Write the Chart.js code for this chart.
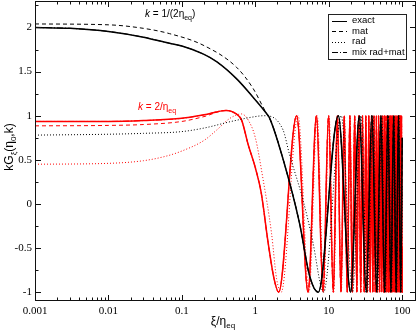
<!DOCTYPE html>
<html>
<head>
<meta charset="utf-8">
<script src="https://cdn.jsdelivr.net/npm/chart.js@4"></script>
<style>
  html, body { margin: 0; padding: 0; background: #fff; }
  canvas { display: block; }
</style>
</head>
<body>
<canvas id="chart" width="417" height="332"></canvas>
<script>
// ---- axis ticks ----
const xDecades = [0.001, 0.01, 0.1, 1, 10, 100];
const xMinorSteps = [2, 3, 4, 5, 6, 7, 8, 9];
const yTicks = [-1, -0.5, 0, 0.5, 1, 1.5, 2];

// ---- k = 1/(2 eta_eq), black curves ----
// smooth part, before the oscillations
const lowExactXi = [0.001, 0.003, 0.01, 0.03, 0.068, 0.1, 0.194, 0.3, 0.553, 0.93, 1.42, 1.57, 2.4, 4.0, 5.5];
const lowExactG  = [2.00, 1.99, 1.955, 1.89, 1.82, 1.79, 1.70, 1.61, 1.42, 1.21, 1.025, 0.97, 0.50, -0.22, -0.82];
const lowMatXi = [0.001, 0.01, 0.03, 0.068, 0.194, 0.553, 0.93, 1.27];
const lowMatG  = [2.04, 2.03, 1.99, 1.93, 1.80, 1.55, 1.31, 1.10];
const lowRadXi = [0.001, 0.01, 0.03, 0.1, 0.2, 0.5, 1.0, 1.3, 2.38, 2.9, 4.47, 6.1, 7.8];
const lowRadG  = [0.78, 0.79, 0.80, 0.82, 0.86, 0.94, 0.99, 1.0, 0.84, 0.57, 0.04, -0.44, -0.93];
// extrema of the oscillations (last point = end of the curve)
const lowExactOscXi = [7.2, 13.48, 19.77, 26.05, 32.33, 38.62, 44.90, 51.18, 57.47, 63.75, 70.03, 76.31, 82.60, 88.88, 95.16, 100];
const lowExactOscG  = [-1, 1, -1, 1, -1, 1, -1, 1, -1, 1, -1, 1, -1, 1, -1, 0.75];
const lowRadOscXi = [8.5, 14.78, 21.07, 27.35, 33.63, 39.92, 46.20, 52.48, 58.77, 65.05, 71.33, 77.61, 83.90, 90.18, 96.46, 100];
const lowRadOscG  = [-1, 1, -1, 1, -1, 1, -1, 1, -1, 1, -1, 1, -1, 1, -1, 0.2];

// ---- k = 2/eta_eq, red curves ----
const highExactXi = [0.001, 0.01, 0.03, 0.1, 0.2, 0.4, 0.55, 0.65, 0.8, 1.0, 1.2, 1.5, 1.8];
const highExactG  = [0.935, 0.935, 0.945, 0.97, 1.01, 1.06, 1.02, 0.95, 0.67, 0.41, 0.13, -0.45, -0.85];
const highMatXi = [0.001, 0.01, 0.03, 0.1, 0.2, 0.4];
const highMatG  = [0.885, 0.89, 0.90, 0.935, 0.99, 1.06];
const highRadXi = [0.001, 0.01, 0.03, 0.06, 0.1, 0.2, 0.3, 0.45, 0.65, 0.8, 1.0, 1.25, 1.66, 1.95];
const highRadG  = [0.45, 0.46, 0.49, 0.54, 0.60, 0.72, 0.84, 0.97, 1.02, 0.95, 0.75, 0.32, -0.33, -0.85];
const highExactOscXi = [2.08, 3.65, 5.22, 6.79, 8.36, 9.93, 11.51, 13.08, 14.65, 16.22, 17.79, 19.36, 20.93, 22.50,
  24.07, 25.64, 27.21, 28.78, 30.35, 31.93, 33.50, 35.07, 36.64, 38.21, 39.78, 41.35, 42.92, 44.49, 46.06, 47.63,
  49.20, 50.78, 52.35, 53.92, 55.49, 57.06, 58.63, 60.20, 61.77, 63.34, 64.91, 66.48, 68.05, 69.62, 71.20, 72.77,
  74.34, 75.91, 77.48, 79.05, 80.62, 82.19, 83.76, 85.33, 86.90, 88.47, 90.05, 91.62, 93.19, 94.76, 96.33, 97.90,
  99.47, 100];
const highExactOscG = [-1, 1, -1, 1, -1, 1, -1, 1, -1, 1, -1, 1, -1, 1, -1, 1, -1, 1, -1, 1, -1, 1, -1, 1, -1, 1,
  -1, 1, -1, 1, -1, 1, -1, 1, -1, 1, -1, 1, -1, 1, -1, 1, -1, 1, -1, 1, -1, 1, -1, 1, -1, 1, -1, 1, -1, 1, -1, 1,
  -1, 1, -1, 1, -1, -0.49];
const highRadOscXi = [2.25, 3.82, 5.39, 6.96, 8.53, 10.10, 11.67, 13.24, 14.81, 16.38, 17.95, 19.52, 21.09, 22.66,
  24.23, 25.80, 27.37, 28.94, 30.51, 32.08, 33.65, 35.22, 36.79, 38.36, 39.93, 41.50, 43.07, 44.64, 46.21, 47.78,
  49.35, 50.92, 52.49, 54.06, 55.63, 57.20, 58.77, 60.34, 61.91, 63.48, 65.05, 66.62, 68.19, 69.76, 71.33, 72.90,
  74.47, 76.04, 77.61, 79.18, 80.75, 82.32, 83.89, 85.46, 87.03, 88.60, 90.17, 91.74, 93.31, 94.88, 96.45, 98.02,
  99.59, 100];
const highRadOscG = [-1, 1, -1, 1, -1, 1, -1, 1, -1, 1, -1, 1, -1, 1, -1, 1, -1, 1, -1, 1, -1, 1, -1, 1, -1, 1,
  -1, 1, -1, 1, -1, 1, -1, 1, -1, 1, -1, 1, -1, 1, -1, 1, -1, 1, -1, 1, -1, 1, -1, 1, -1, 1, -1, 1, -1, 1, -1, 1,
  -1, 1, -1, 1, -1, -0.68];

const legendItems = ['exact', 'mat', 'rad', 'mix rad+mat'];
const legendDash = [[], [4, 3], [1, 2], [6, 2, 1, 2]];

// helpers
function pts(xs, ys) {
  return xs.map((x, i) => ({ x, y: ys[i] }));
}
// a curve that joins the exact one after its own last point
function joinExact(xs, ys, exactPts) {
  const last = xs[xs.length - 1];
  return pts(xs, ys).concat(exactPts.filter(p => p.x > last));
}

const lowExact = pts(lowExactXi, lowExactG).concat(pts(lowExactOscXi, lowExactOscG));
const lowMat = joinExact(lowMatXi, lowMatG, lowExact);
const lowRad = pts(lowRadXi, lowRadG).concat(pts(lowRadOscXi, lowRadOscG));
const highExact = pts(highExactXi, highExactG).concat(pts(highExactOscXi, highExactOscG));
const highMat = joinExact(highMatXi, highMatG, highExact);
const highRad = pts(highRadXi, highRadG).concat(pts(highRadOscXi, highRadOscG));

function line(data, color, width, dash) {
  return {
    data,
    borderColor: color,
    borderWidth: width,
    borderDash: dash,
    pointRadius: 0,
    fill: false,
    cubicInterpolationMode: 'monotone'
  };
}

// draws text parts with subscripts, left to right
function richText(ctx, parts, x, y) {
  let cx = x;
  parts.forEach(p => {
    ctx.font = p.font;
    ctx.fillText(p.t, cx, y + (p.dy || 0));
    cx += ctx.measureText(p.t).width;
  });
  return cx - x;
}
function richWidth(ctx, parts) {
  let w = 0;
  parts.forEach(p => { ctx.font = p.font; w += ctx.measureText(p.t).width; });
  return w;
}

const SANS = '"Liberation Sans", Arial, sans-serif';
const SERIF = '"Liberation Serif", "Times New Roman", serif';

const framePlugin = {
  id: 'frame',
  afterDraw(chart) {
    const ctx = chart.ctx;
    const a = chart.chartArea;
    const xs = chart.scales.x, ys = chart.scales.y;
    ctx.save();

    // frame
    ctx.strokeStyle = '#111';
    ctx.lineWidth = 1;
    ctx.strokeRect(a.left + 0.5, a.top + 0.5, a.right - a.left - 1, a.bottom - a.top - 1);

    // inward ticks on all four sides
    const major = 6, minor = 3.5;
    ctx.beginPath();
    xDecades.forEach(d => {
      const px = Math.round(xs.getPixelForValue(d)) + 0.5;
      ctx.moveTo(px, a.bottom); ctx.lineTo(px, a.bottom - major);
      ctx.moveTo(px, a.top); ctx.lineTo(px, a.top + major);
      xMinorSteps.forEach(s => {
        const v = d * s;
        if (v > xs.max) return;
        const mx = Math.round(xs.getPixelForValue(v)) + 0.5;
        ctx.moveTo(mx, a.bottom); ctx.lineTo(mx, a.bottom - minor);
        ctx.moveTo(mx, a.top); ctx.lineTo(mx, a.top + minor);
      });
    });
    yTicks.forEach((v, i) => {
      const py = Math.round(ys.getPixelForValue(v)) + 0.5;
      ctx.moveTo(a.left, py); ctx.lineTo(a.left + major, py);
      ctx.moveTo(a.right, py); ctx.lineTo(a.right - major, py);
      const next = i < yTicks.length - 1 ? yTicks[i + 1] : v + 0.5;
      const mv = (v + next) / 2;
      if (mv < ys.max) {
        const my = Math.round(ys.getPixelForValue(mv)) + 0.5;
        ctx.moveTo(a.left, my); ctx.lineTo(a.left + minor, my);
        ctx.moveTo(a.right, my); ctx.lineTo(a.right - minor, my);
      }
    });
    ctx.stroke();

    // curve labels
    ctx.textBaseline = 'alphabetic';
    ctx.textAlign = 'left';
    ctx.fillStyle = '#000';
    richText(ctx, [
      { t: 'k', font: 'italic 10px ' + SANS },
      { t: ' = 1/(2η', font: '10px ' + SANS },
      { t: 'eq', font: '7px ' + SANS, dy: 3 },
      { t: ')', font: '10px ' + SANS }
    ], 145, 17);
    ctx.fillStyle = '#ff0000';
    richText(ctx, [
      { t: 'k', font: 'italic 10px ' + SANS },
      { t: ' = 2/η', font: '10px ' + SANS },
      { t: 'eq', font: '7px ' + SANS, dy: 3 }
    ], 138, 110);

    // legend
    const lx = 328.5, ly = 14.5, lw = 78, lh = 45;
    ctx.fillStyle = '#fff';
    ctx.fillRect(lx, ly, lw, lh);
    ctx.strokeStyle = '#222';
    ctx.lineWidth = 1;
    ctx.strokeRect(lx, ly, lw, lh);
    ctx.font = '9.5px ' + SANS;
    ctx.textBaseline = 'middle';
    legendItems.forEach((label, i) => {
      const cy = 20.5 + i * 10.6;
      ctx.strokeStyle = '#000';
      ctx.lineWidth = 1;
      ctx.setLineDash(legendDash[i]);
      ctx.beginPath();
      ctx.moveTo(332, Math.round(cy) + 0.5);
      ctx.lineTo(347, Math.round(cy) + 0.5);
      ctx.stroke();
      ctx.setLineDash([]);
      ctx.fillStyle = '#000';
      ctx.fillText(label, 352, cy);
    });

    // axis titles
    ctx.textBaseline = 'alphabetic';
    ctx.fillStyle = '#000';
    const xt = [
      { t: 'ξ/η', font: '12px ' + SANS },
      { t: 'eq', font: '8px ' + SANS, dy: 3 }
    ];
    richText(ctx, xt, 223 - richWidth(ctx, xt) / 2, 325);

    const yt = [
      { t: 'kG', font: '12px ' + SANS },
      { t: 'ξ', font: '8px ' + SANS, dy: 3 },
      { t: '(η', font: '12px ' + SANS },
      { t: '0', font: '8px ' + SANS, dy: 3 },
      { t: ',k)', font: '12px ' + SANS }
    ];
    ctx.translate(13, 147);
    ctx.rotate(-Math.PI / 2);
    richText(ctx, yt, -richWidth(ctx, yt) / 2, 0);
    ctx.restore();
  }
};

new Chart(document.getElementById('chart'), {
  type: 'line',
  data: {
    datasets: [
      line(lowExact, '#000', 1.5, []),
      line(lowMat, '#000', 1, [4, 3]),
      line(lowRad, '#000', 1, [1, 2]),
      line(highExact, '#ff0000', 1.5, []),
      line(highMat, '#ff0000', 1, [4, 3]),
      line(highRad, '#ff0000', 1, [1, 2]),
      line(lowExact, '#000', 1, [6, 2, 1, 2]),
      line(highExact, '#ff0000', 1, [6, 2, 1, 2])
    ]
  },
  options: {
    responsive: false,
    animation: false,
    devicePixelRatio: 1,
    layout: { padding: { left: 0, right: 1, top: 1, bottom: 0 } },
    plugins: {
      legend: { display: false },
      tooltip: { enabled: false }
    },
    scales: {
      x: {
        type: 'logarithmic',
        min: 0.001,
        max: 154,
        grid: { display: false, drawTicks: false },
        border: { display: false },
        afterBuildTicks: s => { s.ticks = xDecades.map(v => ({ value: v })); },
        afterFit: s => { s.height = 31; s.paddingLeft = 0; s.paddingRight = 0; },
        ticks: {
          autoSkip: false,
          maxRotation: 0,
          padding: 4,
          color: '#000',
          font: { family: SERIF, size: 11 },
          callback: v => {
            const e = Math.round(Math.log10(v));
            return e < 0 ? Math.pow(10, e).toFixed(-e) : String(Math.pow(10, e));
          }
        }
      },
      y: {
        type: 'linear',
        min: -1.1,
        max: 2.3,
        grid: { display: false, drawTicks: false },
        border: { display: false },
        afterBuildTicks: s => { s.ticks = yTicks.map(v => ({ value: v })); },
        afterFit: s => { s.width = 35; s.paddingTop = 0; s.paddingBottom = 0; },
        ticks: {
          padding: 3,
          color: '#000',
          font: { family: SERIF, size: 11 },
          callback: v => String(v)
        }
      }
    }
  },
  plugins: [framePlugin]
});
</script>
</body>
</html>
